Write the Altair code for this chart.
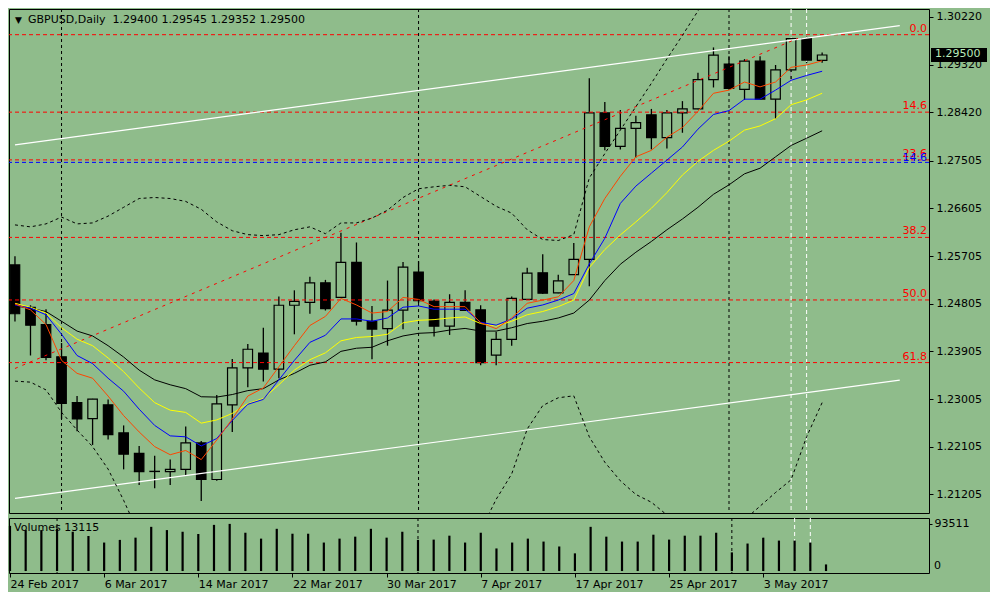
import altair as alt
import pandas as pd

BG = "#8fbc8b"
FONT = "DejaVu Sans"

# ---------------- data ----------------
opens = [1.25537, 1.24739, 1.24413, 1.23804, 1.22938, 1.22637, 1.22896, 1.22367, 1.21979, 1.21642,
         1.21635, 1.21679, 1.22177, 1.21487, 1.22896, 1.23596, 1.23873, 1.23570, 1.24776, 1.24831,
         1.25200, 1.24924, 1.25587, 1.24474, 1.24334, 1.24684, 1.25403, 1.24855, 1.24382, 1.24831,
         1.24689, 1.23836, 1.24131, 1.24887, 1.25390, 1.25008, 1.25353, 1.25643, 1.28408, 1.27774,
         1.28113, 1.28371, 1.27940, 1.28408, 1.28482, 1.29035, 1.29330, 1.28850, 1.29385, 1.28666,
         1.29219, 1.29809, 1.29400]
highs = [1.25703, 1.24776, 1.24702, 1.24063, 1.23062, 1.23010, 1.22999, 1.22508, 1.22121, 1.21937,
         1.21863, 1.22490, 1.22213, 1.23080, 1.23762, 1.24044, 1.24352, 1.24942, 1.25058, 1.25316,
         1.25255, 1.26146, 1.25961, 1.24763, 1.25242, 1.25593, 1.25606, 1.24887, 1.24984, 1.25058,
         1.24776, 1.24278, 1.24942, 1.25482, 1.25740, 1.25353, 1.25949, 1.29059, 1.28611, 1.28463,
         1.28353, 1.28482, 1.28463, 1.28629, 1.29164, 1.29643, 1.29477, 1.29422, 1.29477, 1.29311,
         1.29827, 1.29846, 1.29545]
lows = [1.24468, 1.23828, 1.23736, 1.22630, 1.22398, 1.22140, 1.22243, 1.21679, 1.21384, 1.21321,
        1.21384, 1.21568, 1.21082, 1.21463, 1.22385, 1.23228, 1.23338, 1.23399, 1.24228, 1.24616,
        1.24677, 1.24920, 1.24394, 1.23755, 1.24013, 1.24321, 1.24818, 1.24186, 1.24216, 1.24671,
        1.23644, 1.23644, 1.24013, 1.24880, 1.24990, 1.25005, 1.25350, 1.25137, 1.27700, 1.27718,
        1.27565, 1.27718, 1.27737, 1.28032, 1.28478, 1.28887, 1.28866, 1.28653, 1.28660, 1.28297,
        1.28998, 1.29348, 1.29352]
closes = [1.24616, 1.24400, 1.23792, 1.22925, 1.22630, 1.23006, 1.22335, 1.21966, 1.21635, 1.21638,
          1.21679, 1.22177, 1.21487, 1.22914, 1.23596, 1.23946, 1.23570, 1.24776, 1.24850, 1.25200,
          1.24713, 1.25587, 1.24474, 1.24326, 1.24684, 1.25495, 1.24861, 1.24382, 1.24831, 1.24677,
          1.23694, 1.24131, 1.24905, 1.25384, 1.25003, 1.25237, 1.25643, 1.28408, 1.27774, 1.28113,
          1.28223, 1.27940, 1.28408, 1.28482, 1.29035, 1.29496, 1.28869, 1.29385, 1.28666, 1.29219,
          1.29809, 1.29403, 1.29500]
volumes = [89610, 81230, 81230, 84350, 77920, 69540, 56490, 61750, 66230, 87660,
           81230, 77920, 73440, 91560, 93511, 75970, 64280, 83760, 74020, 74020,
           56490, 64280, 68180, 83760, 66230, 77920, 61750, 62340, 70130, 56490,
           75970, 44800, 56490, 64280, 58440, 48700, 35060, 87660, 68180, 58440,
           58440, 72080, 62340, 70130, 70130, 75970, 37010, 54540, 66230, 60390,
           60390, 56490, 13115]

ma_orange = [1.24800, 1.24689, 1.24413, 1.23736, 1.23491, 1.23399, 1.23062, 1.22693, 1.22385, 1.22108,
             1.21955, 1.22035, 1.21863, 1.22232, 1.22630, 1.23062, 1.23215, 1.23615, 1.24013, 1.24394,
             1.24566, 1.24905, 1.24782, 1.24629, 1.24658, 1.24924, 1.24887, 1.24750, 1.24750, 1.24750,
             1.24444, 1.24334, 1.24536, 1.24813, 1.24874, 1.24935, 1.25242, 1.26256, 1.26791, 1.27210,
             1.27578, 1.27700, 1.27947, 1.28131, 1.28437, 1.28777, 1.28837, 1.28990, 1.28898, 1.28990,
             1.29267, 1.29311, 1.29390]
ma_blue = [1.24782, 1.24721, 1.24597, 1.24229, 1.23828, 1.23675, 1.23399, 1.23154, 1.22815, 1.22508,
           1.22311, 1.22293, 1.22121, 1.22261, 1.22601, 1.22907, 1.22999, 1.23368, 1.23736, 1.24076,
           1.24210, 1.24518, 1.24518, 1.24474, 1.24536, 1.24739, 1.24763, 1.24702, 1.24702, 1.24702,
           1.24455, 1.24400, 1.24518, 1.24721, 1.24782, 1.24874, 1.24997, 1.25556, 1.26041, 1.26699,
           1.27025, 1.27270, 1.27516, 1.27763, 1.28100, 1.28377, 1.28450, 1.28666, 1.28666, 1.28837,
           1.29022, 1.29114, 1.29193]
ma_yellow = [1.24813, 1.24739, 1.24629, 1.24352, 1.24136, 1.24013, 1.23781, 1.23522, 1.23215, 1.22938,
             1.22796, 1.22754, 1.22551, 1.22612, 1.22735, 1.22920, 1.23017, 1.23275, 1.23552, 1.23749,
             1.23878, 1.24105, 1.24168, 1.24186, 1.24229, 1.24444, 1.24492, 1.24505, 1.24536, 1.24555,
             1.24431, 1.24382, 1.24474, 1.24597, 1.24658, 1.24750, 1.24874, 1.25488, 1.25827, 1.26103,
             1.26349, 1.26607, 1.26902, 1.27234, 1.27492, 1.27700, 1.27873, 1.28082, 1.28161, 1.28297,
             1.28561, 1.28653, 1.28777]
ma_black = [1.24763, 1.24721, 1.24658, 1.24474, 1.24289, 1.24197, 1.24013, 1.23799, 1.23552, 1.23368,
            1.23275, 1.23202, 1.23049, 1.23043, 1.23091, 1.23165, 1.23202, 1.23368, 1.23491, 1.23644,
            1.23707, 1.23906, 1.23965, 1.23983, 1.24105, 1.24197, 1.24247, 1.24260, 1.24308, 1.24339,
            1.24289, 1.24289, 1.24352, 1.24431, 1.24474, 1.24536, 1.24629, 1.24874, 1.25242, 1.25550,
            1.25777, 1.25980, 1.26201, 1.26404, 1.26625, 1.26870, 1.27049, 1.27257, 1.27363, 1.27578,
            1.27792, 1.27929, 1.28069]
bb_upper = [1.26293, 1.26256, 1.26312, 1.26441, 1.26312, 1.26330, 1.26459, 1.26625, 1.26791, 1.26810,
            1.26791, 1.26736, 1.26588, 1.26349, 1.26183, 1.26109, 1.26091, 1.26109, 1.26201, 1.26256,
            1.26127, 1.26330, 1.26330, 1.26422, 1.26570, 1.26810, 1.26975, 1.27012, 1.27040, 1.27012,
            1.26828, 1.26644, 1.26515, 1.26201, 1.26017, 1.25998, 1.26109, 1.27178, 1.27639, 1.28082,
            1.28524, 1.28966, 1.29427, 1.29870, 1.30331, 1.30773]
bb_lower = [1.23344, 1.23325, 1.23178, 1.22754, 1.22422, 1.22108, 1.21684, 1.21094, 1.20449, 1.20081,
            1.19804, 1.19620, 1.19527, 1.19527, 1.19620, 1.19712, 1.19804, 1.19896, 1.19988, 1.20081,
            1.20081, 1.20081, 1.20081, 1.20081, 1.20081, 1.20081, 1.20081, 1.20081, 1.20173, 1.20357,
            1.20523, 1.21113, 1.21592, 1.22440, 1.22883, 1.23030, 1.23067, 1.22293, 1.21813, 1.21463,
            1.21205, 1.21058, 1.20818, 1.20541, 1.20357, 1.20357, 1.20486, 1.20726, 1.20984, 1.21242,
            1.21482, 1.22293, 1.22938]

fib_labels = ["0.0", "14.6", "23.6", "38.2", "50.0", "61.8"]
fib_prices = [1.29883, 1.28421, 1.27520, 1.26057, 1.24876, 1.23694]
blue_level_label = ["14.6"]
blue_level_price = [1.27473]

channel_i = [0, 57]
channel_upper = [1.27805, 1.30054]
channel_lower = [1.21131, 1.23362]
trend_i = [0, 50.44]
trend_price = [1.23583, 1.29815]

month_starts = [3, 26, 46]
white_marks = [50, 51]

price_ticks = [1.30220, 1.29320, 1.28420, 1.27505, 1.26605, 1.25705,
               1.24805, 1.23905, 1.23005, 1.22105, 1.21205]
volume_tick = [93511]
date_ticks = [0, 6, 12, 18, 24, 30, 36, 42, 48]
date_labels = ["24 Feb 2017", "6 Mar 2017", "14 Mar 2017", "22 Mar 2017", "30 Mar 2017",
               "7 Apr 2017", "17 Apr 2017", "25 Apr 2017", "3 May 2017"]

# ---------------- layout ----------------
W, H1, H2 = 920, 504, 55
N = len(opens)
idx = list(range(N))

xs = alt.Scale(domain=[-0.0625, 58.5625], nice=False, zero=False)
ys = alt.Scale(domain=[1.20855, 1.30368], nice=False, zero=False)
vs = alt.Scale(domain=[-3896, 105190], nice=False, zero=False)

yaxis = alt.Axis(orient="right", values=price_ticks, format=".5f", labelFont=FONT,
                 labelFontSize=11, labelColor="black", tickColor="black", tickSize=4,
                 labelPadding=3, domain=False, grid=False, title=None, labelOverlap=False)
label_expr = " : ".join(f"datum.value == {t} ? '{l}'" for t, l in zip(date_ticks, date_labels)) + " : ''"
xaxis = alt.Axis(orient="bottom", values=date_ticks, labelExpr=label_expr, labelAlign="left",
                 labelFont=FONT, labelFontSize=11, labelColor="black", tickColor="black",
                 tickSize=4, labelPadding=1, domain=False, grid=False, title=None,
                 labelOverlap=False, labelFlush=False)
vaxis = alt.Axis(orient="right", values=volume_tick, format="d", labelFont=FONT, labelFontSize=11,
                 labelColor="black", tickColor="black", tickSize=3, labelPadding=2,
                 domain=False, grid=False, title=None, labelOverlap=False)

X = alt.X("i:Q", scale=xs, axis=None)
XV = alt.X("i:Q", scale=xs, axis=xaxis)

def Y(field):
    return alt.Y(field, scale=ys, axis=yaxis)

def YV(field):
    return alt.Y(field, scale=vs, axis=vaxis)

candles = pd.DataFrame({"i": idx, "open": opens, "high": highs, "low": lows, "close": closes})

vsep_black = alt.Chart(pd.DataFrame({"i": month_starts})).mark_rule(
    color="black", strokeWidth=1, strokeDash=[3, 3]).encode(x=X)
vsep_white = alt.Chart(pd.DataFrame({"i": white_marks})).mark_rule(
    color="white", strokeWidth=1, strokeDash=[4, 3]).encode(x=X)

wicks = alt.Chart(candles).mark_rule(color="black", strokeWidth=1.3).encode(
    x=X, y=Y("low:Q"), y2="high:Q")
bodies = alt.Chart(candles).mark_bar(width=9.5, stroke="black", strokeWidth=1.2).encode(
    x=X, y=Y("open:Q"), y2="close:Q",
    fill=alt.condition("datum.close >= datum.open", alt.value(BG), alt.value("black")))

fib_df = pd.DataFrame({"label": fib_labels, "price": fib_prices})
fib_rules = alt.Chart(fib_df).mark_rule(color="#ff0000", strokeWidth=1, strokeDash=[4, 3]).encode(y=Y("price:Q"))
fib_text = alt.Chart(fib_df).mark_text(align="right", baseline="bottom", dy=-1, color="#ff0000",
                                       font=FONT, fontSize=11).encode(
    x=alt.value(W - 2), y=Y("price:Q"), text="label:N")
blue_df = pd.DataFrame({"label": blue_level_label, "price": blue_level_price})
blue_rule = alt.Chart(blue_df).mark_rule(color="#0000ff", strokeWidth=1, strokeDash=[4, 3]).encode(y=Y("price:Q"))
blue_text = alt.Chart(blue_df).mark_text(align="right", baseline="bottom", dy=1, color="#0000ff",
                                         font=FONT, fontSize=11).encode(
    x=alt.value(W - 2), y=Y("price:Q"), text="label:N")

chan_df = pd.DataFrame({"i": channel_i * 2, "price": channel_upper + channel_lower,
                        "line": ["up"] * 2 + ["low"] * 2})
channels = alt.Chart(chan_df).mark_line(color="white", strokeWidth=1.2).encode(
    x=X, y=Y("price:Q"), detail="line:N")
trend = alt.Chart(pd.DataFrame({"i": trend_i, "price": trend_price})).mark_line(
    color="#ff0000", strokeWidth=1, strokeDash=[3, 5]).encode(x=X, y=Y("price:Q"))

def series_line(values, color, dash=None):
    df = pd.DataFrame({"i": list(range(len(values))), "v": values})
    kw = dict(color=color, strokeWidth=1, clip=True)
    if dash:
        kw["strokeDash"] = dash
    return alt.Chart(df).mark_line(**kw).encode(x=X, y=Y("v:Q"))

bb_up = series_line(bb_upper, "black", [3, 3])
bb_lo = series_line(bb_lower, "black", [3, 3])
l_black = series_line(ma_black, "black")
l_yellow = series_line(ma_yellow, "#ffff00")
l_blue = series_line(ma_blue, "#0000ff")
l_orange = series_line(ma_orange, "#ff4500")

title_txt = f"GBPUSD,Daily\u00a0 {opens[-1]:.5f} {highs[-1]:.5f} {lows[-1]:.5f} {closes[-1]:.5f}"
tri = alt.Chart(pd.DataFrame({"t": ["\u25bc"]})).mark_text(
    align="left", baseline="middle", font=FONT, fontSize=9, color="black").encode(
    x=alt.value(6), y=alt.value(11), text="t:N")
title = alt.Chart(pd.DataFrame({"t": [title_txt]})).mark_text(
    align="left", baseline="middle", font=FONT, fontSize=11, color="black").encode(
    x=alt.value(19), y=alt.value(11), text="t:N")

last_df = pd.DataFrame({"price": [closes[-1]], "label": [f"{closes[-1]:.5f}"]})
last_box = alt.Chart(last_df).mark_tick(orient="horizontal", size=56, thickness=14,
                                        color="black", opacity=1, clip=False).encode(
    x=alt.value(W + 30), y=Y("price:Q"))
last_txt = alt.Chart(last_df).mark_text(align="left", baseline="middle", font=FONT, fontSize=11,
                                        color="#b8e8b8", clip=False, dy=-1).encode(
    x=alt.value(W + 6), y=Y("price:Q"), text="label:N")

main = alt.layer(
    wicks, vsep_black, vsep_white, bodies,
    fib_rules, blue_rule, channels, trend, bb_up, bb_lo,
    l_black, l_yellow, l_blue, l_orange,
    fib_text, blue_text, tri, title, last_box, last_txt,
).properties(width=W, height=H1)

# ---------------- volume panel ----------------
vol_df = pd.DataFrame({"i": idx, "volume": volumes})
vsep_black_v = alt.Chart(pd.DataFrame({"i": month_starts})).mark_rule(
    color="black", strokeWidth=1, strokeDash=[3, 3]).encode(x=XV)
vsep_white_v = alt.Chart(pd.DataFrame({"i": white_marks})).mark_rule(
    color="white", strokeWidth=1, strokeDash=[4, 3]).encode(x=XV)
vol_bars = alt.Chart(vol_df).mark_rule(color="black", strokeWidth=2.2).encode(
    x=XV, y=YV("volume:Q"), y2=alt.datum(0))
vol_title = alt.Chart(pd.DataFrame({"t": [f"Volumes {volumes[-1]}"]})).mark_text(
    align="left", baseline="middle", font=FONT, fontSize=11, color="black").encode(
    x=alt.value(5), y=alt.value(10), text="t:N")
zero_lbl = alt.Chart(pd.DataFrame({"v": [0], "t": ["0"]})).mark_text(
    align="left", baseline="bottom", font=FONT, fontSize=11, color="black", clip=False).encode(
    x=alt.value(W + 5), y=YV("v:Q"), text="t:N")

vol = alt.layer(vsep_black_v, vsep_white_v, vol_bars, vol_title, zero_lbl).properties(width=W, height=H2)

chart = alt.vconcat(main, vol, spacing=3).properties(
    padding={"left": 0, "top": 0, "right": 2, "bottom": 2}
).configure(background=BG).configure_view(stroke="black", strokeWidth=1)

chart.save("out.html", embed_options={"renderer": "svg", "actions": False})
